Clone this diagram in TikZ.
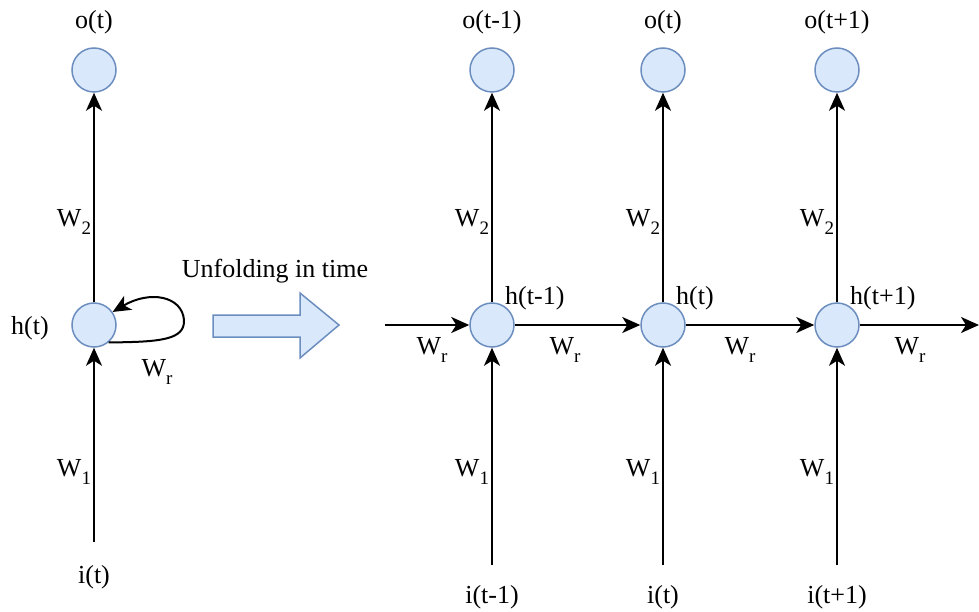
\documentclass[tikz,border=0pt]{standalone}
\usepackage{fontspec}
\setmainfont{Liberation Serif}
\usetikzlibrary{arrows.meta}
\definecolor{cfill}{HTML}{DAE8FC}
\definecolor{cline}{HTML}{6C8EBF}
\newcommand{\mysub}[1]{\raisebox{-0.3em}{\fontsize{19}{20}\selectfont #1}}
\begin{document}
\begin{tikzpicture}[x=1pt,y=-1pt,
  unit/.style={circle,draw=cline,fill=cfill,line width=1.5pt,minimum size=44pt,inner sep=0pt},
  lbl/.style={font=\fontsize{26}{30}\selectfont,inner sep=0pt},
  conn/.style={line width=2pt,-{Stealth[length=18pt,width=16pt,inset=5pt]}},
  bigarrow/.style={draw=cline,fill=cfill,line width=1.5pt}]
\useasboundingbox (0,0) rectangle (979,612);
% left folded network
\node[unit] (h0) at (94,325) {};
\node[unit] (o0) at (94,70) {};
\coordinate (i0) at (94,542);
\node[lbl] (lo0) at (94,22) {o(t)};
\node[lbl] (lh0) at (30,328) {h(t)};
\node[lbl] (li0) at (94,577) {i(t)};
\node[lbl] (lw20) at (74,222) {W\mysub{2}};
\node[lbl] (lw10) at (74,472) {W\mysub{1}};
\node[lbl] (lwr0) at (157,372) {W\mysub{r}};
\draw[conn] (i0) -- (h0);
\draw[conn] (h0) -- (o0);
\draw[conn] (h0.-50) .. controls (160,342) and (185,340) .. (184,320)
  .. controls (182,296) and (150,290) .. (h0.35);
% big arrow
\draw[bigarrow] (213,315) -- (300,315) -- (300,293) -- (339,325) -- (300,358) -- (300,337) -- (213,337) -- cycle;
\node[lbl] (lunf) at (275,271) {Unfolding in time};
% unfolded network
\foreach \n/\x/\t in {1/492/t-1,2/663/t,3/837/t+1}{
  \node[unit] (h\n) at (\x,325) {};
  \node[unit] (o\n) at (\x,70) {};
  \coordinate (i\n) at (\x,565);
  \node[lbl] (lo\n) at (\x,22) {o(\t)};
  \node[lbl] (li\n) at (\x,597) {i(\t)};
  \node[lbl,anchor=west] (lh\n) at (\x+13,298) {h(\t)};
  \node[lbl] (lw2\n) at (\x-20,222) {W\mysub{2}};
  \node[lbl] (lw1\n) at (\x-20,472) {W\mysub{1}};
  \draw[conn] (i\n) -- (h\n);
  \draw[conn] (h\n) -- (o\n);
}
\coordinate (hin) at (385,325);
\coordinate (hout) at (979,325);
\draw[conn] (hin) -- (h1);
\draw[conn] (h1) -- (h2);
\draw[conn] (h2) -- (h3);
\draw[conn] (h3) -- (hout);
\node[lbl] (lwr1) at (432,350) {W\mysub{r}};
\node[lbl] (lwr2) at (565,350) {W\mysub{r}};
\node[lbl] (lwr3) at (740,350) {W\mysub{r}};
\node[lbl] (lwr4) at (910,350) {W\mysub{r}};
\end{tikzpicture}
\end{document}
